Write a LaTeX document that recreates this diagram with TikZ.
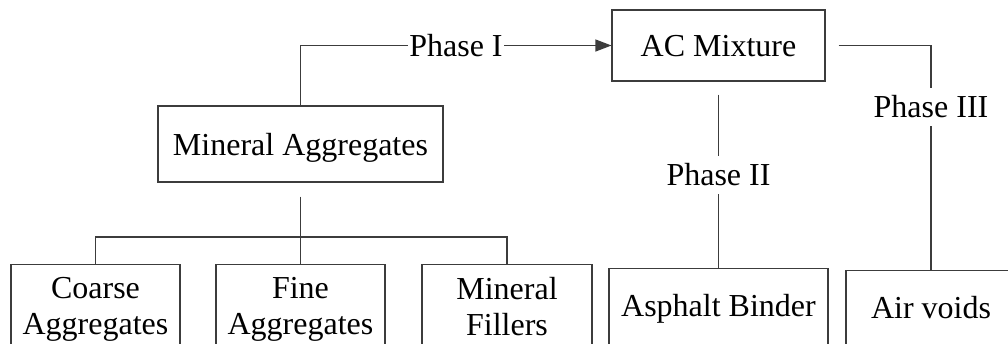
\documentclass[tikz,border=0pt]{standalone}
\usepackage{fontspec}
\setmainfont{Liberation Serif}
\usetikzlibrary{arrows.meta}
\definecolor{linec}{RGB}{60,60,60}
\begin{document}
\begin{tikzpicture}[x=1pt,y=-1pt,
  txt/.style={font=\fontsize{32}{36}\selectfont},
  box/.style={txt, draw=linec, line width=1.1pt, align=center, inner sep=0pt},
  topbox/.style={box, text height=22pt, text depth=0pt},
  lowbox/.style={box, minimum height=90pt, anchor=north, text height=22pt, text depth=16pt},
  twobox/.style={box, minimum height=90pt, anchor=north},
  conn/.style={draw=linec, line width=1.1pt},
  lbl/.style={txt, fill=white, text height=22pt, text depth=0pt, inner xsep=1pt, inner ysep=8pt},
]
\clip (0,0) rectangle (1008,343);
\fill[white] (0,0) rectangle (1008,343);

\node[topbox, minimum width=213pt, minimum height=71pt] (AC) at (718.5,45.5) {AC Mixture};
\node[topbox, minimum width=285pt, minimum height=76pt] (MA) at (300.5,144) {Mineral Aggregates};

\node[twobox, minimum width=169pt] (Coarse) at (95.5,264) {Coarse\\Aggregates\vphantom{g}};
\node[twobox, minimum width=169pt] (Fine) at (300.5,264) {Fine\\Aggregates\vphantom{g}};
\node[twobox, minimum width=170pt] (Fillers) at (507,264) {Mineral\\Fillers\vphantom{g}};
\node[lowbox, minimum width=219pt] (Asph) at (718.5,268) {Asphalt Binder};
\node[lowbox, minimum width=170pt] (Air) at (931,270) {Air voids};

\coordinate (bus) at (300.5,237);

\draw[conn, -{Triangle[length=16pt,width=12pt]}] (MA.north) |- node[lbl, pos=0.75, inner ysep=2pt]{Phase I} (AC.west);
\draw[conn, shorten <=13pt] (AC.east) -| node[lbl, pos=0.636]{Phase III} (Air.north);
\draw[conn, shorten <=13pt] (AC.south) -- node[lbl]{Phase II} (Asph.north);
\draw[conn, shorten <=14pt] (MA.south) -- (Fine.north);
\draw[conn] (Coarse.north) |- (bus) -| (Fillers.north);
\end{tikzpicture}
\end{document}
